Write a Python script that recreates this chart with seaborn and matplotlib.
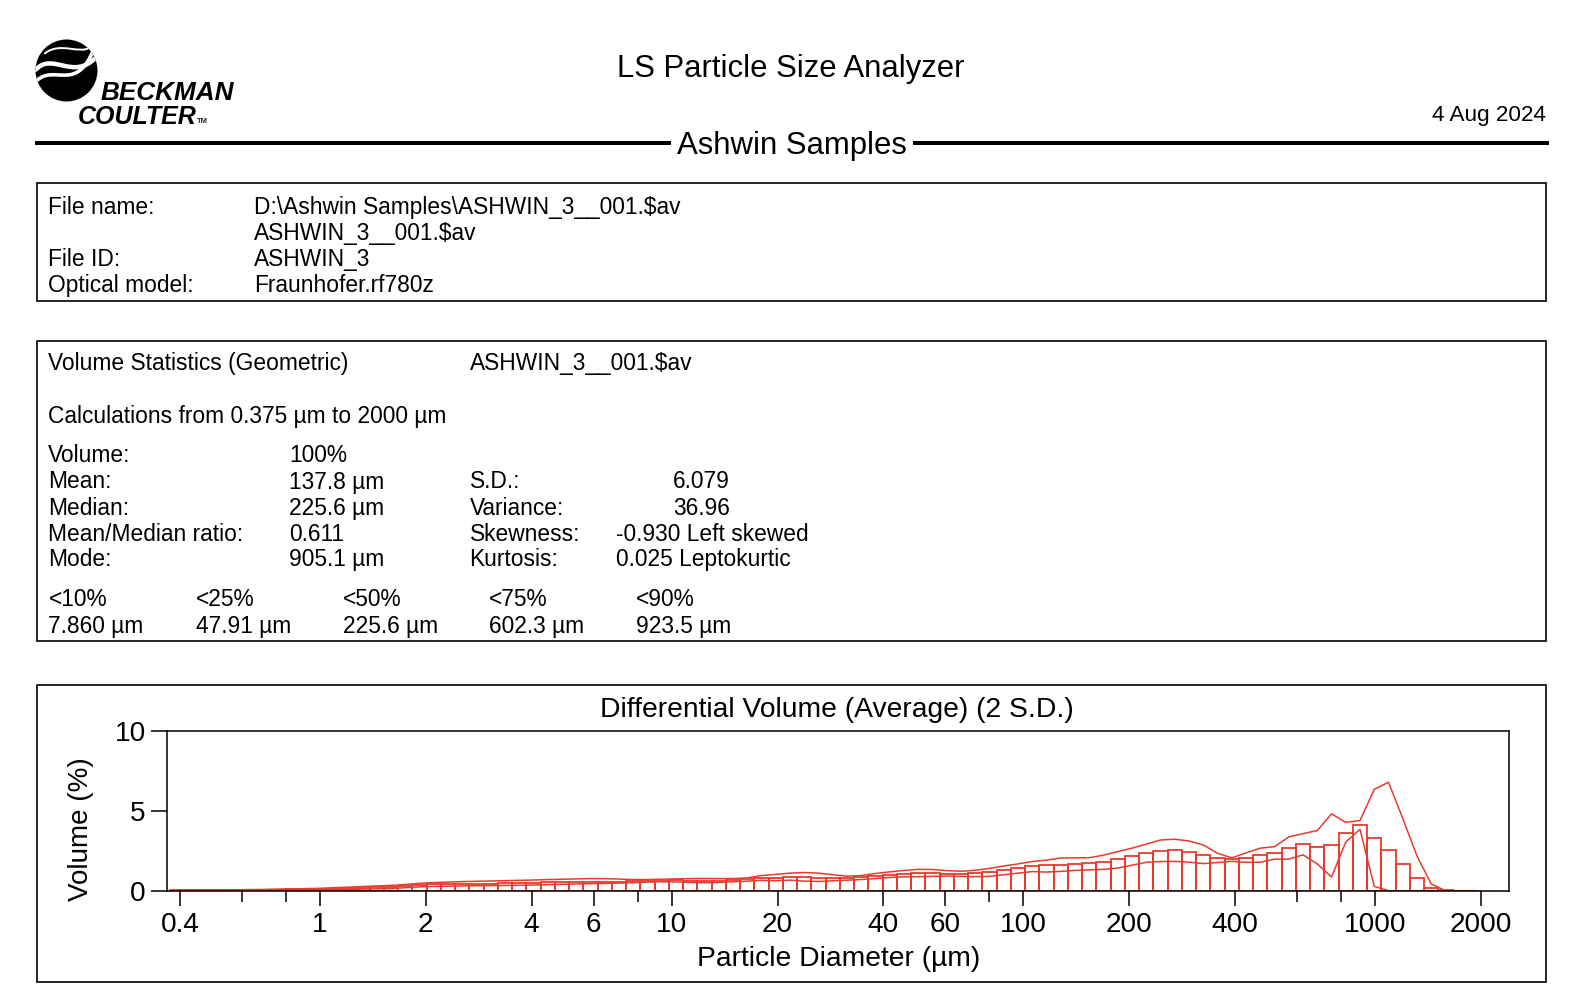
import numpy as np
import pandas as pd
import matplotlib
matplotlib.use("Agg")
import matplotlib.pyplot as plt
import seaborn as sns
from matplotlib.patches import Circle, Rectangle, PathPatch
from matplotlib.path import Path
from matplotlib.ticker import FixedLocator, NullFormatter

# ---------------- data ----------------
# LS 13 320 channel boundaries (µm), 92 channels from 0.375 to 2000
channel_edges = [0.375, 0.412, 0.452, 0.496, 0.545, 0.598, 0.657, 0.721, 0.791, 0.869,
                 0.953, 1.047, 1.149, 1.261, 1.385, 1.520, 1.669, 1.832, 2.011, 2.208,
                 2.423, 2.660, 2.920, 3.206, 3.519, 3.863, 4.241, 4.656, 5.111, 5.611,
                 6.159, 6.761, 7.422, 8.148, 8.944, 9.819, 10.78, 11.83, 12.99, 14.26,
                 15.65, 17.18, 18.86, 20.70, 22.73, 24.95, 27.39, 30.07, 33.01, 36.24,
                 39.78, 43.67, 47.94, 52.62, 57.77, 63.41, 69.61, 76.42, 83.89, 92.09,
                 101.1, 111.0, 121.8, 133.7, 146.8, 161.2, 176.9, 194.2, 213.2, 234.1,
                 256.9, 282.1, 309.6, 339.9, 373.1, 409.6, 449.7, 493.6, 541.9, 594.9,
                 653.0, 716.9, 786.9, 863.9, 948.3, 1041, 1143, 1255, 1377, 1512,
                 1660, 1822, 2000]

volume_pct = [0.02, 0.03, 0.03, 0.04, 0.05, 0.05, 0.06, 0.07, 0.08, 0.09,
              0.10, 0.13, 0.15, 0.18, 0.21, 0.23, 0.29, 0.35, 0.39, 0.40,
              0.42, 0.42, 0.44, 0.46, 0.47, 0.49, 0.54, 0.54, 0.56, 0.56,
              0.56, 0.57, 0.59, 0.63, 0.63, 0.64, 0.63, 0.63, 0.63, 0.66,
              0.74, 0.81, 0.80, 0.87, 0.86, 0.81, 0.77, 0.80, 0.87, 0.93,
              1.00, 1.07, 1.09, 1.08, 1.06, 1.05, 1.10, 1.18, 1.27, 1.40,
              1.53, 1.59, 1.64, 1.68, 1.71, 1.83, 1.98, 2.17, 2.37, 2.52,
              2.55, 2.45, 2.27, 2.07, 1.97, 2.06, 2.21, 2.38, 2.69, 2.93,
              2.76, 2.84, 3.64, 4.15, 3.33, 2.55, 1.68, 0.80, 0.19, 0.04,
              0.00, 0.00]

upper_2sd = [0.03, 0.04, 0.04, 0.05, 0.06, 0.07, 0.08, 0.10, 0.11, 0.13,
             0.15, 0.19, 0.22, 0.26, 0.30, 0.33, 0.39, 0.46, 0.51, 0.54,
             0.57, 0.59, 0.61, 0.63, 0.65, 0.67, 0.70, 0.72, 0.74, 0.76,
             0.76, 0.73, 0.70, 0.70, 0.72, 0.74, 0.76, 0.77, 0.76, 0.76,
             0.80, 0.95, 1.02, 1.10, 1.14, 1.10, 1.00, 0.91, 0.95, 1.08,
             1.18, 1.27, 1.34, 1.33, 1.26, 1.22, 1.28, 1.40, 1.55, 1.68,
             1.83, 1.92, 2.05, 2.06, 2.07, 2.23, 2.45, 2.67, 2.92, 3.18,
             3.23, 3.12, 2.87, 2.35, 2.06, 2.37, 2.67, 2.76, 3.37, 3.58,
             3.77, 4.82, 4.29, 4.40, 6.36, 6.80, 4.53, 2.17, 0.42, 0.00,
             0.00, 0.00]

lower_2sd = [0.01, 0.02, 0.02, 0.03, 0.04, 0.03, 0.04, 0.04, 0.05, 0.05,
             0.05, 0.07, 0.08, 0.10, 0.12, 0.13, 0.19, 0.24, 0.27, 0.28,
             0.30, 0.31, 0.32, 0.33, 0.34, 0.36, 0.38, 0.40, 0.42, 0.44,
             0.46, 0.48, 0.50, 0.54, 0.56, 0.55, 0.52, 0.50, 0.52, 0.56,
             0.60, 0.65, 0.62, 0.66, 0.60, 0.58, 0.62, 0.66, 0.70, 0.76,
             0.83, 0.87, 0.88, 0.90, 0.92, 0.89, 0.88, 0.90, 1.00, 1.10,
             1.20, 1.17, 1.21, 1.27, 1.31, 1.34, 1.42, 1.60, 1.78, 1.83,
             1.84, 1.79, 1.70, 1.77, 1.84, 1.78, 1.78, 1.98, 1.98, 2.25,
             1.68, 0.86, 3.05, 3.85, 0.27, 0.00, 0.00, 0.00, 0.00, 0.00,
             0.00, 0.00]

x_major_ticks = [0.4, 1, 2, 4, 6, 10, 20, 40, 60, 100, 200, 400, 1000, 2000]
x_major_labels = ["0.4", "1", "2", "4", "6", "10", "20", "40", "60", "100",
                  "200", "400", "1000", "2000"]
x_minor_ticks = [0.6, 0.8, 8, 80, 600, 800]
y_ticks = [0, 5, 10]
y_tick_labels = ["0", "5", "10"]

file_labels = ["File name:", "", "File ID:", "Optical model:"]
file_values = ["D:\\Ashwin Samples\\ASHWIN_3__001.$av", "ASHWIN_3__001.$av",
               "ASHWIN_3", "Fraunhofer.rf780z"]

stat_left_labels = ["Volume:", "Mean:", "Median:", "Mean/Median ratio:", "Mode:"]
stat_left_values = ["100%", "137.8 µm", "225.6 µm", "0.611", "905.1 µm"]
stat_right_labels = ["", "S.D.:", "Variance:", "Skewness:", "Kurtosis:"]
stat_right_values = ["", "6.079", "36.96", "-0.930 Left skewed", "0.025 Leptokurtic"]
pct_labels = ["<10%", "<25%", "<50%", "<75%", "<90%"]
pct_values = ["7.860 µm", "47.91 µm", "225.6 µm", "602.3 µm", "923.5 µm"]

RED = "#e63b2e"

# ---------------- style ----------------
sns.set_style("ticks")
plt.rcParams["font.family"] = ["Liberation Sans", "DejaVu Sans"]

W, H = 1580, 1008
fig = plt.figure(figsize=(W / 100, H / 100), dpi=100)
fig.patch.set_facecolor("white")

ov = fig.add_axes([0, 0, 1, 1])
ov.set_xlim(0, W)
ov.set_ylim(H, 0)
ov.axis("off")

BODY = 16.35


def t(x, y, s, size=BODY, ha="left", va="baseline", **kw):
    ov.text(x, y, s, fontsize=size, ha=ha, va=va, color="black", parse_math=False, **kw)


# ---------------- logo ----------------
cx, cy, r = 66.5, 70.5, 31
circ = Circle((cx, cy), r, facecolor="black", edgecolor="none", zorder=2)
ov.add_patch(circ)


def bez(pts, lw):
    pts = [(cx + px * r, cy + py * r) for px, py in pts]
    p = Path(pts, [Path.MOVETO, Path.CURVE4, Path.CURVE4, Path.CURVE4])
    pp = PathPatch(p, facecolor="none", edgecolor="white", lw=lw, zorder=3,
                   capstyle="round")
    ov.add_patch(pp)
    pp.set_clip_path(circ)


bez([(-1.0, -0.02), (-0.45, -0.62), (0.2, 0.35), (0.95, -0.42)], 3.2)
bez([(-0.95, 0.32), (-0.4, -0.2), (0.3, 0.7), (0.85, -0.62)], 2.6)
bez([(-0.7, -0.55), (-0.2, -0.95), (0.45, -0.5), (0.75, -0.75)], 1.4)

ov.text(100.5, 100, "BECKMAN", fontsize=18.8, fontweight="bold", fontstyle="italic",
        ha="left", va="baseline", color="black")
ov.text(78, 124, "COULTER", fontsize=18, fontweight="bold", fontstyle="italic",
        ha="left", va="baseline", color="black")
ov.text(197, 123, "TM", fontsize=5.5, fontweight="bold", ha="left", va="baseline")

# ---------------- header ----------------
t(791, 77, "LS Particle Size Analyzer", size=22.3, ha="center")
t(1546, 121, "4 Aug 2024", size=16.2, ha="right")
ov.plot([35.3, 671], [143, 143], color="black", lw=2.9, solid_capstyle="butt")
ov.plot([913, 1548.8], [143, 143], color="black", lw=2.9, solid_capstyle="butt")
t(791.5, 154, "Ashwin Samples", size=22.4, ha="center")

# ---------------- boxes ----------------
for (y0, y1) in [(183.4, 301.3), (340.6, 640.9), (685.2, 981.5)]:
    ov.add_patch(Rectangle((37.3, y0), 1545.7 - 37.3, y1 - y0, fill=False,
                           edgecolor="black", lw=1.2))

rows1 = [213.6, 239.8, 266.0, 292.2]
for yy, lab, val in zip(rows1, file_labels, file_values):
    if lab:
        t(48.4, yy, lab)
    t(253.9, yy, val)

t(48.4, 369.8, "Volume Statistics (Geometric)")
t(469.6, 369.8, "ASHWIN_3__001.$av")
t(48.4, 423.2, "Calculations from 0.375 µm to 2000 µm")
rows2 = [462.3, 488.5, 514.7, 540.9, 566.1]
for i, yy in enumerate(rows2):
    t(48.4, yy, stat_left_labels[i])
    t(289.2, yy, stat_left_values[i])
    if stat_right_labels[i]:
        t(469.6, yy, stat_right_labels[i])
        xv = 673.1 if i in (1, 2) else 615.7
        t(xv, yy, stat_right_values[i])
pct_x = [48.4, 195.5, 342.6, 488.7, 635.8]
for xx, lab, val in zip(pct_x, pct_labels, pct_values):
    t(xx, 606.4, lab)
    t(xx, 632.6, val)

# ---------------- chart ----------------
t(836.9, 717.4, "Differential Volume (Average) (2 S.D.)", size=20.3, ha="center")
t(838.4, 965.5, "Particle Diameter (µm)", size=20.3, ha="center")
ov.text(81, 828.8, "Volume (%)", fontsize=20, rotation=90, ha="center", va="center",
        color="black")

edges = np.array(channel_edges, dtype=float)
centers = np.sqrt(edges[:-1] * edges[1:])
df = pd.DataFrame({"diameter": centers, "volume": volume_pct,
                   "upper": upper_2sd, "lower": lower_2sd})

ax_l, ax_r, ax_t, ax_b = 166.7, 1509.3, 731.3, 890.7
ax = fig.add_axes([ax_l / W, 1 - ax_b / H, (ax_r - ax_l) / W, (ax_b - ax_t) / H])
ax.set_facecolor("white")

log_bins = [float(v) for v in np.log10(edges)]
sns.histplot(data=df, x="diameter", weights="volume", bins=log_bins,
             log_scale=True, fill=False, element="bars", color=RED,
             linewidth=1.3, ax=ax)
sns.lineplot(data=df, x="diameter", y="upper", color=RED, linewidth=1.1,
             estimator=None, sort=False, ax=ax)
sns.lineplot(data=df, x="diameter", y="lower", color=RED, linewidth=1.1,
             estimator=None, sort=False, ax=ax)

ax.set_xscale("log")
ax.set_xlim(0.367, 2405)
ax.set_ylim(0, 10)
ax.xaxis.set_major_locator(FixedLocator(x_major_ticks))
ax.set_xticklabels(x_major_labels)
ax.xaxis.set_minor_locator(FixedLocator(x_minor_ticks))
ax.xaxis.set_minor_formatter(NullFormatter())
ax.set_yticks(y_ticks)
ax.set_yticklabels(y_tick_labels)
ax.tick_params(axis="x", which="major", length=11, width=1.1, pad=4,
               labelsize=20.2, color="black", labelcolor="black", direction="out")
ax.tick_params(axis="x", which="minor", length=8, width=1.1, color="black",
               direction="out")
ax.tick_params(axis="y", which="major", length=11.5, width=1.1, pad=3.5,
               labelsize=20.2, color="black", labelcolor="black", direction="out")
ax.tick_params(axis="y", which="minor", length=0)
for s in ax.spines.values():
    s.set_visible(True)
    s.set_color("black")
    s.set_linewidth(1.1)
ax.set_xlabel("")
ax.set_ylabel("")
ax.grid(False)

fig.savefig("out.png", dpi=100, facecolor="white")
